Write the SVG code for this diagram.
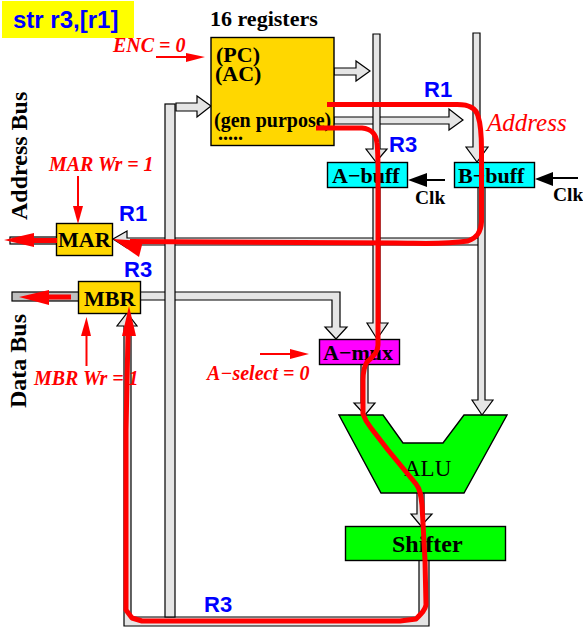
<svg xmlns="http://www.w3.org/2000/svg" width="583" height="627" viewBox="0 0 583 627">
<style>
.bus{fill:#e5e5e5;stroke:#000;stroke-width:1.2}
.box{stroke:#000;stroke-width:1.4}
.gold{fill:#ffd700}
.cyan{fill:#00ffff}
.green{fill:#00ff00}
.t{font-family:"Liberation Serif",serif;font-weight:bold;fill:#000;font-size:22px}
.clk{font-size:19.5px}
.side{font-size:24px}
.ctl{font-family:"Liberation Serif",serif;font-weight:bold;font-style:italic;fill:#ff0000;font-size:20px}
.reg{font-family:"Liberation Sans",sans-serif;font-weight:bold;fill:#0000ff;font-size:22px}
.path{fill:none;stroke:#ff0000;stroke-width:5;stroke-linejoin:round}
.thin{fill:none;stroke:#ff0000;stroke-width:2}
.blk{fill:none;stroke:#000;stroke-width:2}
.rh{fill:#ff0000}
</style>
<g id="title">
<rect x="2" y="1" width="132" height="37" fill="#ffff00"/>
<text x="13" y="28" font-family="'Liberation Sans',sans-serif" font-weight="bold" font-size="24" fill="#0000ff">str r3,[r1]</text>
</g>
<text class="t" x="210" y="26">16 registers</text>
<g id="buses">
<rect class="bus" x="12" y="292" width="67" height="9" style="fill:#bebebe"/>
<rect class="bus" x="10" y="237" width="47" height="7"/>
<polygon class="bus" points="334,68 356,68 356,61 370,71 356,81 356,75 334,75"/>
<polygon class="bus" points="334,117 449,117 449,109 463,120 449,130 449,124 334,124"/>
<polygon class="bus" points="113,239 127,231 127,238 479,238 479,245 127,245 127,248"/>
<polygon class="bus" points="140,292 340,292 340,327 347,327 336,339 325,327 332,327 332,300 140,300"/>
<polygon class="bus" points="373,34 380,34 380,149 387,149 376,162 366,149 373,149"/>
<polygon class="bus" points="373,187 380,187 380,323 388,323 377,339 367,323 373,323"/>
<polygon class="bus" points="473,33 480,33 480,147 488,147 477,162 466,147 473,147"/>
<polygon class="bus" points="478,187 485,187 485,400 493,400 482,415 472,400 478,400"/>
<polygon class="bus" points="361,364 368,364 368,403 375,403 365,415 354,403 361,403"/>
<polygon class="bus" points="417,493 424,493 424,514 432,514 421,526 411,514 417,514"/>
<polygon class="bus" points="419,560 429,560 429,626 124,626 124,326 117,326 127,313 137,326 131,326 131,617 419,617"/>
<polygon class="bus" points="176,103 197,103 197,96 211,106 197,117 197,111 176,111"/>
<rect class="bus" x="165" y="104" width="10" height="513"/>
</g>
<g id="registers">
<rect class="box gold" x="211" y="37.500" width="123" height="108"/>
<text class="t" x="216" y="62">(PC)</text>
<text class="t" x="215" y="81">(AC)</text>
<text class="t" x="214" y="127" style="font-size:20px">(gen purpose)</text>
<text class="t" x="218" y="140" style="font-size:20px">.....</text>
</g>
<g id="a-buff"><rect class="box cyan" x="327.500" y="162.500" width="80" height="25"/><text class="t" x="332" y="183">A−buff</text></g>
<g id="b-buff"><rect class="box cyan" x="454.500" y="162.500" width="80" height="25"/><text class="t" x="458" y="183">B−buff</text></g>
<g id="mar"><rect class="box gold" x="56.500" y="223.500" width="56" height="32"/><text class="t" x="58" y="247">MAR</text></g>
<g id="mbr"><rect class="box gold" x="78.500" y="281.500" width="62" height="32"/><text class="t" x="84" y="306">MBR</text></g>
<g id="a-mux"><rect class="box" fill="#ff00ff" x="319.500" y="339.500" width="80" height="25"/><text class="t" x="323" y="360">A−mux</text></g>
<g id="alu"><polygon class="box green" points="339,415 383,415 403,443 443,443 464,415 507,415 464,493 381,493"/><text x="404" y="476" font-family="'Liberation Serif',serif" font-size="23" fill="#000">ALU</text></g>
<g id="shifter"><rect class="box green" x="345.500" y="526.500" width="160" height="34"/><text class="t" x="392" y="552" style="font-size:24px">Shifter</text></g>
<text class="t side" transform="translate(27 220) rotate(-90)">Address Bus</text>
<text class="t side" transform="translate(26 408) rotate(-90)">Data Bus</text>
<g id="clk-connectors">
<path class="blk" d="M426 180H445"/><polygon points="408,180 427,173 427,187"/>
<path class="blk" d="M552 178H578"/><polygon points="535,179 553,172 553,186"/>
</g>
<text class="t clk" x="415" y="204">Clk</text>
<text class="t clk" x="553" y="201">Clk</text>
<g id="connectors">
<path class="path" d="M327 104.500H455C468 104 476 108 478 116C481 125 481.500 135 481.500 150V222C481 232 477 238 468 241C440 245 420 243 395 243L130 241.500"/>
<path class="path" d="M316 128H362C372 129 376 134 377 143C378 150 378 160 378 175V345C378 352 372 358 367 362C364 367 363 372 363 380V414C365 420 367 423 371 428L388 450L416 484C420 489 421 495 422 505L425 560L426 605C425 610 422 613 416 619L400 621H142L132 618L126 610L126 430L128 335"/>
<polygon class="rh" points="113,239 143,241 139,257"/>
<polygon class="rh" points="129,306 136,336 122,336"/>
<path d="M33 240.500H57" stroke="#ff0000" stroke-width="5"/>
<polygon class="rh" points="4,240 34,233 34,247"/>
<path d="M47 297H71" stroke="#ff0000" stroke-width="5"/>
<polygon class="rh" points="19,297 49,290 49,305"/>
<path class="thin" d="M156 57H188"/><polygon class="rh" points="205,57 186,53 186,62"/>
<path class="thin" d="M78 176V208"/><polygon class="rh" points="78,224 73,206 83,206"/>
<path class="thin" d="M86.500 366V335"/><polygon class="rh" points="86.500,317 81,336 91,336"/>
<path class="thin" d="M260 354H291"/><polygon class="rh" points="309,354 290,349 290,359"/>
</g>
<g id="labels">
<text class="ctl" x="113" y="52">ENC = 0</text>
<text class="ctl" x="49" y="171">MAR Wr = 1</text>
<text class="ctl" x="34" y="385">MBR Wr = 1</text>
<text class="ctl" x="207" y="380">A−select = 0</text>
<text x="487" y="131" font-family="'Liberation Serif',serif" font-style="italic" font-size="25" fill="#ff0000">Address</text>
<text class="reg" x="424" y="97">R1</text>
<text class="reg" x="389" y="152">R3</text>
<text class="reg" x="119" y="221">R1</text>
<text class="reg" x="124" y="277">R3</text>
<text class="reg" x="204" y="612">R3</text>
</g>
</svg>
